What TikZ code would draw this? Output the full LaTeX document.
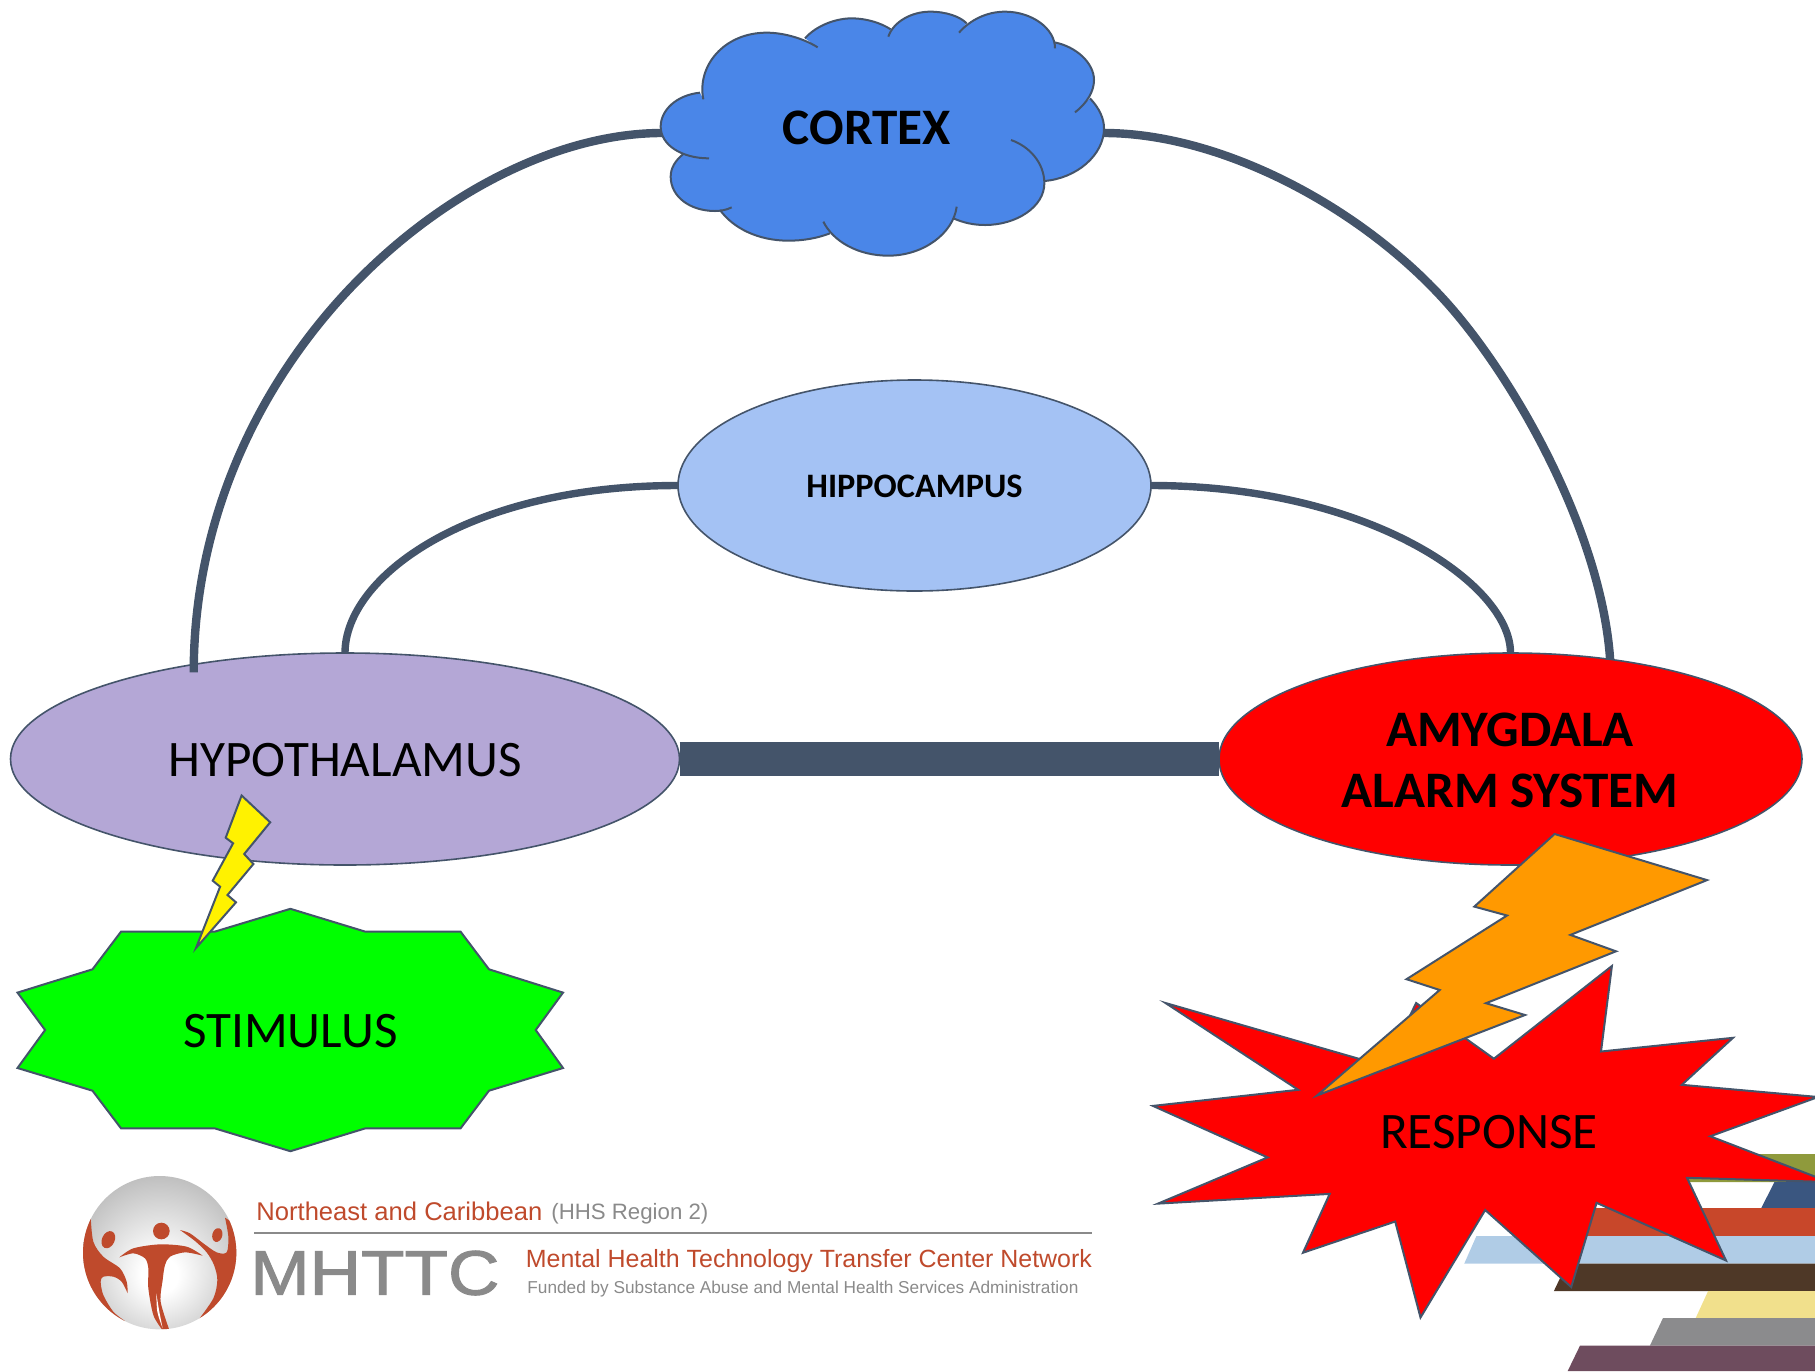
\documentclass[tikz,border=0pt]{standalone}
\usepackage{fontspec}
\usepackage{graphicx}
\setmainfont{Carlito}
\newfontfamily\arialf{Liberation Sans}
\newfontfamily\arialb[FakeBold=1.5]{Liberation Sans}
\usetikzlibrary{shapes.geometric}
\definecolor{edgeblue}{HTML}{44546A}
\definecolor{cloudblue}{HTML}{4A86E8}
\definecolor{hippoblue}{HTML}{A4C2F4}
\definecolor{hypopurple}{HTML}{B4A7D6}
\definecolor{boltorange}{HTML}{FF9900}
\definecolor{rust}{HTML}{BF4A2C}
\definecolor{logogray}{HTML}{8A8A8A}
\definecolor{stolive}{HTML}{8F9A3C}
\definecolor{stnavy}{HTML}{3A5680}
\definecolor{strust}{HTML}{C8472A}
\definecolor{stsky}{HTML}{B0CCE6}
\definecolor{stbrown}{HTML}{4E3827}
\definecolor{stpale}{HTML}{F1E08C}
\definecolor{stgray}{HTML}{8B8B8D}
\definecolor{stplum}{HTML}{6E4C5E}
\pgfdeclareradialshading{logoshade}{\pgfpoint{0bp}{-8bp}}{rgb(0bp)=(1,1,1); rgb(6bp)=(1,1,1); rgb(30bp)=(.74,.74,.74); rgb(58bp)=(.48,.48,.48)}
\tikzset{
  oval/.style={ellipse,draw=edgeblue,line width=0.8pt,inner sep=0pt,outer sep=0pt,align=center},
  shapeline/.style={draw=edgeblue,line width=1pt,line join=miter},
  cloudline/.style={draw=edgeblue,line width=1pt},
  bigtext/.style={font=\fontsize{25.6pt}{30.5pt}\selectfont,text=black,align=center,inner sep=0pt},
  boldtext/.style={font=\fontsize{25.6pt}{30.5pt}\selectfont\bfseries,text=black,align=center,inner sep=0pt},
  thickarc/.style={draw=edgeblue,line width=4.2pt},
  thinarc/.style={draw=edgeblue,line width=3.7pt},
  logotext/.style={font=\arialf,inner sep=0pt,anchor=west},
}
\def\lobeA{(190,298) .. controls (170,200) and (250,98) .. (380,98) .. controls (430,98) and (490,115) .. (533,142)}
\def\lobeB{(495,115) .. controls (530,75) and (590,55) .. (635,55) .. controls (680,55) and (725,70) .. (752,88)}
\def\lobeC{(745,110) .. controls (760,65) and (815,35) .. (870,35) .. controls (920,35) and (960,50) .. (980,70)}
\def\lobeD{(957,98) .. controls (990,60) and (1040,35) .. (1095,35) .. controls (1175,35) and (1245,85) .. (1245,145)}
\def\lobeE{(1243,127) .. controls (1310,140) and (1362,190) .. (1362,240) .. controls (1362,275) and (1340,310) .. (1305,337)}
\def\lobeF{(1350,295) .. controls (1378,325) and (1392,355) .. (1392,385) .. controls (1392,465) and (1310,535) .. (1213,543)}
\def\lobeG{(1113,420) .. controls (1170,440) and (1213,490) .. (1213,550) .. controls (1213,620) and (1130,675) .. (1035,675) .. controls (1000,675) and (970,668) .. (940,655)}
\def\lobeH{(950,620) .. controls (940,700) and (850,767) .. (745,767) .. controls (655,767) and (580,725) .. (550,665)}
\def\lobeI{(570,700) .. controls (530,715) and (490,722) .. (445,722) .. controls (355,722) and (280,685) .. (240,630)}
\def\lobeJ{(275,622) .. controls (260,630) and (240,633) .. (225,633) .. controls (150,633) and (92,590) .. (92,530) .. controls (92,505) and (105,482) .. (130,462)}
\def\lobeK{(207,475) .. controls (125,475) and (62,435) .. (62,380) .. controls (62,330) and (110,285) .. (180,278)}
\begin{document}
\begin{tikzpicture}[x=0.5pt,y=-0.5pt]
\useasboundingbox (0,0) rectangle (1815,1371);
\clip (0,0) rectangle (1815,1371);
% stripes
\fill[stolive] (1640,1154) -- (1815,1154) -- (1815,1182) -- (1627,1182) -- cycle;
\fill[stnavy] (1774.4,1182) -- (1815,1182) -- (1815,1208) -- (1761.3,1208) -- cycle;
\fill[strust] (1580,1208) -- (1815,1208) -- (1815,1236) -- (1566.9,1236) -- cycle;
\fill[stsky] (1476.4,1236) -- (1815,1236) -- (1815,1263.7) -- (1464.2,1263.7) -- cycle;
\fill[stbrown] (1566.9,1263.7) -- (1815,1263.7) -- (1815,1291.2) -- (1553.8,1291.2) -- cycle;
\fill[stpale] (1708,1291.2) -- (1815,1291.2) -- (1815,1318) -- (1695.7,1318) -- cycle;
\fill[stgray] (1663,1318) -- (1815,1318) -- (1815,1345.6) -- (1649.9,1345.6) -- cycle;
\fill[stplum] (1580,1345.6) -- (1815,1345.6) -- (1815,1371) -- (1567.7,1371) -- cycle;
% main nodes
\node[oval,fill=hypopurple,minimum width=334.5pt,minimum height=106pt] (hypo) at (345,759) {};
\node[oval,fill=red,minimum width=291.5pt,minimum height=106pt] (amy) at (1510.5,759) {};
\node[oval,fill=hippoblue,minimum width=236.5pt,minimum height=105.5pt] (hippo) at (914.5,485.5) {};
\node[minimum width=221pt,minimum height=100pt,inner sep=0pt,outer sep=0pt] (cortex) at (883,133) {};
\coordinate (cortexarcmid) at (1447,303);
% connectors
\draw[thickarc,shorten >=-4pt] (cortex.west) .. controls +(-200,0) and +(0,-305) .. (hypo.148);
\draw[thickarc] (cortex.east) .. controls +(116,0) and (1360.4,206) .. (cortexarcmid) .. controls (1513.6,377.6) and (1601,530) .. (amy.45.2);
\draw[thinarc] (hippo.west) .. controls +(-210,0) and +(0,-76) .. (hypo.north);
\draw[thinarc] (hippo.east) .. controls +(215,0) and +(0,-70) .. (amy.north);
\draw[draw=edgeblue,line width=17pt] (hypo.east) -- (amy.west);
% cloud
\begin{scope}[shift={(640,0)},x=0.16667pt,y=-0.16667pt]
\fill[cloudblue] \lobeA -- \lobeB -- \lobeC -- \lobeD -- \lobeE -- \lobeF -- \lobeG -- \lobeH -- \lobeI -- \lobeJ -- \lobeK -- cycle;
\fill[cloudblue] (190,298) -- (533,142) -- (745,110) -- (957,98) -- (1243,127) -- (1305,337) -- (1213,543) -- (940,655) -- (550,665) -- (240,630) -- (130,462) -- cycle;
\draw[cloudline] \lobeA;
\draw[cloudline] \lobeB;
\draw[cloudline] \lobeC;
\draw[cloudline] \lobeD;
\draw[cloudline] \lobeE;
\draw[cloudline] \lobeF;
\draw[cloudline] \lobeG;
\draw[cloudline] \lobeH;
\draw[cloudline] \lobeI;
\draw[cloudline] \lobeJ;
\draw[cloudline] \lobeK;
\end{scope}
% stimulus star
\draw[shapeline,fill=green] (290.4,908.8) -- (365.5,931.7) -- (460.6,931.7) -- (489,969.3) -- (563,992.6) -- (535.7,1030) -- (563,1068) -- (489,1090.7) -- (460.6,1128.3) -- (365.5,1128.3) -- (290.4,1151.2) -- (214.6,1128.3) -- (121,1128.3) -- (92.5,1090.7) -- (17.5,1068) -- (45.1,1030) -- (17.5,992.6) -- (92.5,969.3) -- (121,931.7) -- (214.6,931.7) -- cycle;
% yellow bolt
\draw[shapeline,fill=yellow] (241.6,795.5) -- (270.2,822.3) -- (244.2,854) -- (253.4,864) -- (227.5,895) -- (236,902.3) -- (196,948) -- (220.1,886.7) -- (212.7,880.7) -- (233.1,843.3) -- (225.7,837.7) -- cycle;
% response star
\draw[shapeline,fill=red] (1611.9,966) -- (1601,1051.5) -- (1733,1037.8) -- (1681.8,1084.8) -- (1818,1097) -- (1710.2,1136.3) -- (1829,1182) -- (1687,1177.8) -- (1726,1260.5) -- (1596.6,1202.8) -- (1571.2,1287) -- (1485.2,1210) -- (1420.5,1317.5) -- (1395.2,1221.5) -- (1303,1252.7) -- (1329.7,1193.9) -- (1158,1203.6) -- (1267.6,1157.4) -- (1153,1105.9) -- (1298.2,1089.8) -- (1165.5,1003) -- (1385.6,1066.5) -- (1416.1,1003) -- (1493.9,1058.7) -- cycle;
% orange bolt
\draw[shapeline,fill=boltorange] (1554.6,834) -- (1707,880.1) -- (1570.4,934.9) -- (1616,951.3) -- (1486,1003.2) -- (1525,1015) -- (1317,1095.5) -- (1439.7,990) -- (1406.5,979.2) -- (1507,915.5) -- (1474.3,906.6) -- cycle;
% labels
\node[boldtext] (cortexlabel) at (867,128) {CORTEX};
\node[boldtext,font=\fontsize{17.15pt}{20pt}\selectfont\bfseries] (hippolabel) at (914.5,486) {HIPPOCAMPUS};
\node[bigtext] (hypolabel) at (345,760) {HYPOTHALAMUS};
\node[boldtext] (amylabel) at (1510,760) {AMYGDALA\\ALARM SYSTEM};
\node[bigtext] (stimlabel) at (290.4,1031) {STIMULUS};
\node[bigtext] (resplabel) at (1489,1132) {RESPONSE};
% logo
\begin{scope}[shift={(70,1165)},x=0.16667pt,y=-0.16667pt]
\shade[shading=logoshade] (269,263) circle (230);
\begin{scope}
\clip (269,263) circle (230);
\fill[rust] plot[smooth] coordinates {(62,155) (70,230) (100,275) (150,310) (170,350) (173,385)} -- plot[smooth] coordinates {(173,385) (155,350) (130,335) (100,335) (92,350) (100,390) (130,440) (165,468)} -- (60,480) -- (0,300) -- (30,150) -- cycle;
\fill[rust] plot[smooth] coordinates {(465,158) (475,215) (470,262) (440,262) (400,235) (360,205) (330,195)} -- plot[smooth] coordinates {(330,195) (375,228) (410,262) (432,300) (442,345) (430,400) (385,465)} -- (440,490) -- (530,400) -- (530,200) -- cycle;
\fill[rust] (115,224) circle [x radius=19, y radius=27, rotate=-25];
\fill[rust] (442,210) circle [x radius=15, y radius=21, rotate=-15];
\fill[rust] (274,198) circle (25);
\fill[rust] plot[smooth] coordinates {(148,277) (190,250) (270,238) (350,245) (398,272)} -- plot[smooth] coordinates {(398,272) (345,262) (300,275) (285,300) (278,345) (272,410) (297,492)} -- (275,492) -- plot[smooth] coordinates {(275,492) (250,450) (235,370) (235,310) (225,280) (190,265) (148,277)} -- cycle;
\fill[white] plot[smooth] coordinates {(259,385) (262,440) (278,490)} -- plot[smooth] coordinates {(278,490) (268,440) (259,385)} -- cycle;
\end{scope}
\end{scope}
\node[logotext,text=rust] (region) at (256,1211) {\resizebox{143pt}{!}{Northeast and Caribbean}};
\node[logotext,text=logogray] (regiontag) at (551,1214) {\resizebox{78.5pt}{!}{(HHS Region 2)}};
\coordinate (rulestart) at (254,1232.7);
\coordinate (ruleend) at (1091.5,1232.7);
\draw[draw=logogray,line width=1.2pt] (rulestart) -- (ruleend);
\node[logotext,text=logogray,font=\arialb] (mhttc) at (250,1273) {\resizebox{124.5pt}{22pt}{MHTTC}};
\node[logotext,text=rust] (network) at (525.5,1261) {\resizebox{283pt}{!}{Mental Health Technology Transfer Center Network}};
\node[logotext,text=logogray] (funded) at (527,1289) {\resizebox{275.5pt}{!}{Funded by Substance Abuse and Mental Health Services Administration}};
\end{tikzpicture}
\end{document}
